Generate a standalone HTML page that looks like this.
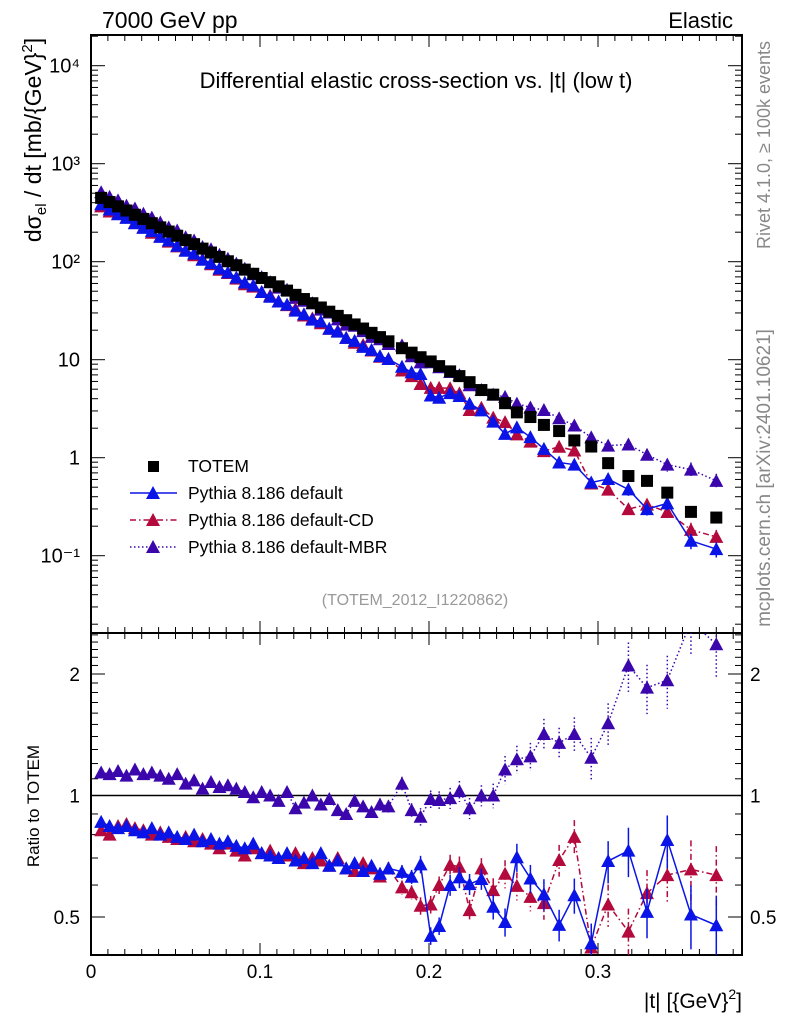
<!DOCTYPE html>
<html><head><meta charset="utf-8"><style>
html,body{margin:0;padding:0;background:#fff;}
svg{display:block;font-family:"Liberation Sans",sans-serif;}
</style></head><body>
<svg id="chart" width="786" height="1024" viewBox="0 0 786 1024" xmlns="http://www.w3.org/2000/svg">
<text x="102" y="28" font-size="23">7000 GeV pp</text>
<text x="733" y="28" font-size="22" text-anchor="end">Elastic</text>
<text x="416" y="88" font-size="22" text-anchor="middle">Differential elastic cross-section vs. |t| (low t)</text>
<text transform="translate(41,140) rotate(-90)" font-size="23" text-anchor="middle">dσ<tspan font-size="15" dy="5">el</tspan><tspan dy="-5"> / dt [mb/{GeV}</tspan><tspan font-size="15" dy="-9">2</tspan><tspan dy="9">]</tspan></text>
<text transform="translate(770,145) rotate(-90)" font-size="18" fill="#888" text-anchor="middle">Rivet 4.1.0, ≥ 100k events</text>
<text transform="translate(770,478) rotate(-90)" font-size="19" fill="#888" text-anchor="middle">mcplots.cern.ch [arXiv:2401.10621]</text>
<text x="415" y="605" font-size="16" fill="#999" text-anchor="middle">(TOTEM_2012_I1220862)</text>
<text transform="translate(39,806) rotate(-90)" font-size="17" text-anchor="middle">Ratio to TOTEM</text>
<text x="742" y="1008" font-size="21" text-anchor="end">|t| [{GeV}<tspan font-size="14" dy="-9">2</tspan><tspan dy="9">]</tspan></text>
<g id="plot"></g>
</svg>
<script>
const tVals=[0.006,0.011,0.016,0.021,0.026,0.031,0.036,0.041,0.046,0.051,0.056,0.061,0.066,0.071,0.076,0.081,0.086,0.091,0.096,0.101,0.106,0.111,0.116,0.121,0.126,0.131,0.136,0.141,0.146,0.151,0.156,0.161,0.166,0.171,0.176,0.184,0.1897,0.195,0.201,0.206,0.2125,0.218,0.224,0.231,0.238,0.245,0.252,0.26,0.268,0.277,0.286,0.296,0.306,0.318,0.329,0.341,0.355,0.37];
const totem=[448,406,367,333,301,273,247,224,203,184,166,151,136,124,112,101,92,83,75.3,68.2,61.8,56.0,50.7,45.9,41.6,37.7,34.1,30.9,28.0,25.3,22.9,20.8,18.8,17.0,15.4,13.1,11.8,10.6,9.6,8.6,7.6,6.8,5.9,4.9,4.4,3.6,2.9,2.6,2.16,1.87,1.5,1.3,0.88,0.65,0.58,0.44,0.28,0.245];
const ratioDefault=[0.86,0.84,0.83,0.84,0.82,0.81,0.83,0.80,0.81,0.79,0.78,0.80,0.77,0.78,0.76,0.77,0.75,0.74,0.76,0.72,0.71,0.70,0.72,0.69,0.70,0.68,0.72,0.67,0.69,0.66,0.68,0.65,0.67,0.64,0.66,0.647,0.629,0.675,0.449,0.475,0.60,0.627,0.603,0.621,0.53,0.486,0.703,0.623,0.569,0.478,0.566,0.43,0.688,0.73,0.515,0.776,0.507,0.477];
const ratioCD=[0.82,0.80,0.84,0.85,0.83,0.82,0.80,0.81,0.79,0.78,0.79,0.77,0.78,0.76,0.74,0.76,0.73,0.71,0.74,0.72,0.73,0.70,0.71,0.72,0.68,0.70,0.69,0.67,0.70,0.66,0.65,0.68,0.66,0.63,0.66,0.592,0.576,0.533,0.537,0.60,0.673,0.666,0.52,0.66,0.583,0.64,0.597,0.561,0.541,0.692,0.79,0.42,0.537,0.46,0.573,0.635,0.656,0.635];
const ratioMBR=[1.14,1.13,1.15,1.12,1.16,1.13,1.14,1.12,1.10,1.13,1.07,1.09,1.04,1.08,1.05,1.06,1.04,1.02,0.99,1.02,1.00,0.97,1.02,0.93,0.96,1.00,0.95,0.98,0.92,0.90,0.97,0.94,0.91,0.95,0.94,1.07,0.92,0.886,0.98,0.975,0.985,1.025,0.93,1.0,1.0,1.16,1.23,1.25,1.42,1.35,1.42,1.24,1.51,2.10,1.85,1.93,2.7,2.37];
const relErr=[0.01,0.01,0.01,0.01,0.01,0.01,0.01,0.01,0.01,0.01,0.01,0.01,0.01,0.012,0.012,0.012,0.012,0.015,0.015,0.015,0.015,0.018,0.018,0.02,0.02,0.02,0.022,0.022,0.025,0.025,0.03,0.03,0.03,0.035,0.035,0.04,0.04,0.05,0.05,0.05,0.06,0.06,0.06,0.06,0.07,0.08,0.08,0.08,0.09,0.09,0.1,0.12,0.12,0.14,0.14,0.15,0.18,0.18];
const mainTickLabels=["10\u207B\u00B9","1","10","10\u00B2","10\u00B3","10\u2074"];
const xTickLabels=["0","0.1","0.2","0.3"];
const ratioTickVals=[0.5,1,2];

const NS="http://www.w3.org/2000/svg";
const g=document.getElementById('plot');
const L=91,R=742,T=35,MB=633,RB=955;
function xS(t){return L+t*1690;}
function yM(v){return 457.7-98*Math.log10(v);}
function yR(r){return 795.5-403.6*Math.log10(r);}
function mk(tag,attrs,parent){const e=document.createElementNS(NS,tag);for(const k in attrs)e.setAttribute(k,attrs[k]);(parent||g).appendChild(e);return e;}

const defs=mk('defs',{});
const c1=mk('clipPath',{id:'cm'},defs);mk('rect',{x:L,y:T,width:R-L,height:MB-T},c1);
const c2=mk('clipPath',{id:'cr'},defs);mk('rect',{x:L,y:MB,width:R-L,height:RB-MB},c2);

let f=mk('rect',{x:L,y:T,width:R-L,height:MB-T,fill:'none',stroke:'#000','stroke-width':2});


f=mk('rect',{x:L,y:MB,width:R-L,height:RB-MB,fill:'none',stroke:'#000','stroke-width':2});



for(let i=0;i<=38;i++){
  const x=xS(i*0.01);const len=(i%10==0)?12:6;
  for(const [yt,yb] of [[T,MB],[MB,RB]]){
    mk('line',{x1:x,y1:yt,x2:x,y2:yt+len,stroke:'#000','stroke-width':1});
    mk('line',{x1:x,y1:yb,x2:x,y2:yb-len,stroke:'#000','stroke-width':1});
  }
}
xTickLabels.forEach((s,i)=>{const e=mk('text',{x:xS(i*0.1),y:978,'font-size':19,'text-anchor':'middle'});e.textContent=s;

});

for(let d=-2;d<=4;d++){
  for(let m=1;m<=9;m++){
    const v=m*Math.pow(10,d);const y=yM(v);if(y<T||y>MB)continue;
    const len=m==1?14:7;
    mk('line',{x1:L,y1:y,x2:L+len,y2:y,stroke:'#000'});
    mk('line',{x1:R,y1:y,x2:R-len,y2:y,stroke:'#000'});
  }
}
mainTickLabels.forEach((s,i)=>{const v=Math.pow(10,i-1);const e=mk('text',{x:80,y:yM(v)+7,'font-size':20,'text-anchor':'end'});e.textContent=s;

});

for(let r=0.4;r<=2.55;r+=0.1){
  const rr=Math.round(r*10)/10;const y=yR(rr);if(y<MB||y>RB)continue;
  const major=(rr==0.5||rr==1||rr==2);const len=major?14:7;
  mk('line',{x1:L,y1:y,x2:L+len,y2:y,stroke:'#000'});
  mk('line',{x1:R,y1:y,x2:R-len,y2:y,stroke:'#000'});
}
ratioTickVals.forEach(r=>{
  let e=mk('text',{x:80,y:yR(r)+7,'font-size':19,'text-anchor':'end'});e.textContent=String(r);
  
  
  e=mk('text',{x:750,y:yR(r)+7,'font-size':19});e.textContent=String(r);
  
  
});
let ln=mk('line',{x1:L,y1:yR(1),x2:R,y2:yR(1),stroke:'#000','stroke-width':1.5});



function tri(x,y,col,parent){return mk('path',{d:`M${x-7},${y+6}L${x+7},${y+6}L${x},${y-7}Z`,fill:col},parent);}

const series=[
 {name:'pythia-default',ratio:ratioDefault,col:'#0a14e6',dash:'none'},
 {name:'pythia-default-cd',ratio:ratioCD,col:'#b3093c',dash:'6,3,1.5,3'},
 {name:'pythia-default-mbr',ratio:ratioMBR,col:'#3b07ad',dash:'1.5,2.5'}
];
const gm=mk('g',{'clip-path':'url(#cm)'});


const gr=mk('g',{'clip-path':'url(#cr)'});



[2,1,0].forEach(si=>{
  const s=series[si];
  const gs=mk('g',{},gm);
  
  
  const gsr=mk('g',{},gr);
  
  
  let pm='',pr='';
  tVals.forEach((t,i)=>{
    const v=totem[i]*s.ratio[i],x=xS(t);
    pm+=(i?'L':'M')+x+','+yM(v);
    pr+=(i?'L':'M')+x+','+yR(s.ratio[i]);
  });
  mk('path',{d:pm,fill:'none',stroke:s.col,'stroke-width':1.5,'stroke-dasharray':s.dash},gs);
  mk('path',{d:pr,fill:'none',stroke:s.col,'stroke-width':1.5,'stroke-dasharray':s.dash},gsr);
  tVals.forEach((t,i)=>{
    const v=totem[i]*s.ratio[i],x=xS(t),e=relErr[i];
    const r=s.ratio[i];
    if(e>0.03){
      mk('line',{x1:x,y1:yM(v*(1+e)),x2:x,y2:yM(v*(1-e)),stroke:s.col,'stroke-width':1.5,'stroke-dasharray':s.dash},gs);
      mk('line',{x1:x,y1:yR(r*(1+e)),x2:x,y2:yR(r*(1-e)),stroke:s.col,'stroke-width':1.5,'stroke-dasharray':s.dash},gsr);
    }
    let m=tri(x,yM(v),s.col,gs);
    
    
    m=tri(x,yR(r),s.col,gsr);
    
    
  });
});
const gt=mk('g',{},gm);


tVals.forEach((t,i)=>{
  const sq=mk('rect',{x:xS(t)-6,y:yM(totem[i])-6,width:12,height:12,fill:'#000'},gt);
  
  
});

const lg=mk('g',{});


const legItems=[['TOTEM','#000',null],['Pythia 8.186 default','#0a14e6','none'],['Pythia 8.186 default-CD','#b3093c','6,3,1.5,3'],['Pythia 8.186 default-MBR','#3b07ad','1.5,2.5']];
legItems.forEach((it,i)=>{
  const y=466+i*27;
  const ge=mk('g',{},lg);
  
  
  if(it[2]===null){mk('rect',{x:148,y:y-5,width:11,height:11,fill:'#000'},ge);}
  else{mk('line',{x1:130,y1:y,x2:177,y2:y,stroke:it[1],'stroke-width':1.5,'stroke-dasharray':it[2]},ge);tri(153,y,it[1],ge);}
  const tx=mk('text',{x:188,y:y+6,'font-size':17.5},ge);tx.textContent=it[0];
});
</script>
</body></html>
